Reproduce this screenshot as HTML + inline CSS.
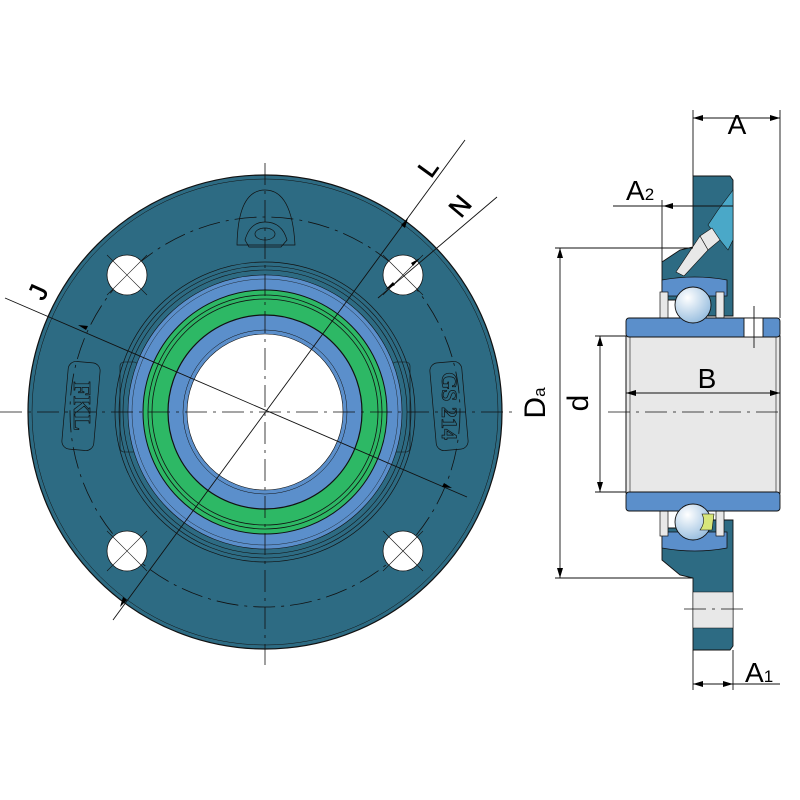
<!DOCTYPE html>
<html><head><meta charset="utf-8"><style>html,body{margin:0;padding:0;background:#fff}svg{display:block}</style></head><body>
<svg width="800" height="800" viewBox="0 0 800 800" xmlns="http://www.w3.org/2000/svg" font-family="Liberation Sans, DejaVu Sans, sans-serif">
<defs>
<marker id="ar" markerWidth="10" markerHeight="6" refX="10" refY="3" orient="auto-start-reverse" markerUnits="userSpaceOnUse"><path d="M0,0 L10,3 L0,6 z" fill="#000"/></marker>
<radialGradient id="ball" cx="0.35" cy="0.3" r="0.8"><stop offset="0" stop-color="#fff"/><stop offset="1" stop-color="#8fb8dc"/></radialGradient>
</defs>
<!-- FRONT VIEW -->
<circle cx="265" cy="412" r="237" fill="#2d6b83" stroke="#111" stroke-width="1.2"/>
<circle cx="265" cy="412" r="233" fill="none" stroke="#111" stroke-width="0.5"/>
<circle cx="265" cy="412" r="195" fill="none" stroke="#111" stroke-width="0.8" stroke-dasharray="22,6,3,6"/>
<g fill="#fff" stroke="#111" stroke-width="0.8">
<circle cx="127" cy="275" r="20"/><circle cx="403" cy="275" r="20"/><circle cx="127" cy="551" r="20"/><circle cx="403" cy="551" r="20"/>
</g>
<g stroke="#111" stroke-width="0.6">
<path d="M107,255 L147,295 M147,255 L107,295 M383,255 L423,295 M423,255 L383,295 M107,531 L147,571 M147,531 L107,571 M383,531 L423,571 M423,531 L383,571"/>
</g>
<path d="M237,245 Q238,190 265,190 Q292,190 295,245 Z" fill="none" stroke="#111" stroke-width="0.7"/>
<path d="M245,240 Q250,222 265,222 Q282,222 287,240 L281,247 L249,247 Z" fill="none" stroke="#111" stroke-width="0.7"/>
<ellipse cx="265" cy="234" rx="10" ry="6" fill="none" stroke="#111" stroke-width="0.7"/>
<rect x="65" y="362" width="32" height="88" rx="8" fill="none" stroke="#111" stroke-width="0.7" transform="rotate(5 81 406)"/>
<text x="81" y="413" font-size="24" font-weight="bold" text-anchor="middle" fill="none" stroke="#111" stroke-width="0.7" transform="rotate(90 81 406)" font-family="Liberation Serif, serif">FKL</text>
<rect x="433" y="362" width="32" height="88" rx="8" fill="none" stroke="#111" stroke-width="0.7" transform="rotate(-5 449 406)"/>
<text x="449" y="413" font-size="22" font-weight="bold" text-anchor="middle" fill="none" stroke="#111" stroke-width="0.7" transform="rotate(90 449 406)" font-family="Liberation Serif, serif">GS 214</text>
<circle cx="265" cy="412" r="150" fill="none" stroke="#111" stroke-width="0.7"/>
<circle cx="265" cy="412" r="146" fill="none" stroke="#111" stroke-width="0.6"/>
<circle cx="265" cy="412" r="142" fill="none" stroke="#111" stroke-width="0.6"/>
<rect x="120" y="362" width="18" height="90" rx="4" fill="none" stroke="#111" stroke-width="0.6"/>
<rect x="392" y="362" width="18" height="90" rx="4" fill="none" stroke="#111" stroke-width="0.6"/>
<circle cx="265" cy="412" r="137" fill="#5b8fcb" stroke="#111" stroke-width="0.6"/>
<circle cx="265" cy="412" r="133" fill="none" stroke="#111" stroke-width="0.4"/>
<circle cx="265" cy="412" r="122" fill="#2db865" stroke="#111" stroke-width="1"/>
<circle cx="265" cy="412" r="117" fill="none" stroke="#111" stroke-width="0.8"/>
<circle cx="265" cy="412" r="113" fill="none" stroke="#111" stroke-width="0.8"/>
<circle cx="265" cy="412" r="97" fill="#5b8fcb" stroke="#111" stroke-width="1.2"/>
<circle cx="265" cy="412" r="82" fill="none" stroke="#111" stroke-width="0.5"/>
<circle cx="265" cy="412" r="78" fill="#fff" stroke="#111" stroke-width="0.6"/>
<g stroke="#111" stroke-width="0.8" stroke-dasharray="22,6,3,6">
<line x1="0" y1="412" x2="515" y2="412"/><line x1="265" y1="163" x2="265" y2="665"/>
</g>
<g stroke="#111" stroke-width="0.9" fill="none">
<line x1="5" y1="298" x2="467" y2="497"/>
<line x1="465" y1="140" x2="113" y2="620"/>
<line x1="497" y1="197" x2="378" y2="298"/>
</g>
<path d="M78,325 L88,326 L86,330 Z M452,488 L442,487 L444,483 Z" fill="#000"/>
<path d="M408,218 L405,228 L401,225 Z M120,607 L123,597 L127,600 Z" fill="#000"/>
<path d="M420,258 L411,263 L413,266 Z M385,290 L395,285 L393,282 Z" fill="#000"/>
<text x="38" y="301" font-size="26" text-anchor="middle" stroke="#000" stroke-width="0.6" transform="rotate(-66 38 292)">J</text>
<text x="428" y="177" font-size="26" text-anchor="middle" stroke="#000" stroke-width="0.6" transform="rotate(-54 428 168)">L</text>
<text x="460" y="215" font-size="26" text-anchor="middle" stroke="#000" stroke-width="0.6" transform="rotate(-50 460 206)">N</text>
<!-- SIDE VIEW -->
<rect x="626" y="336" width="154" height="157" fill="#e8e8e8" stroke="#111" stroke-width="1"/>
<line x1="630" y1="336" x2="630" y2="493" stroke="#111" stroke-width="0.6"/>
<line x1="776" y1="336" x2="776" y2="493" stroke="#111" stroke-width="0.6"/>
<path d="M693,176 L730,176 L733,180 L733,316 L700,316 L700,300 L662,300 L662,262 L680,250 L693,247 Z" fill="#2d6b83" stroke="#111" stroke-width="0.9"/>
<path d="M733,190 L718,210 L708,225 L728,250 L733,240 Z" fill="#4aa8c8" stroke="#111" stroke-width="0.6"/>
<path d="M700,236 L712,228 L720,240 L708,250 Z" fill="#e8e8e8" stroke="#111" stroke-width="0.6"/>
<path d="M700,236 L676,272 L684,276 L708,250 Z" fill="#e8e8e8" stroke="#111" stroke-width="0.6"/>
<path d="M662,528 L700,528 L700,520 L733,520 L733,646 L730,650 L693,650 L693,578 L680,575 L662,560 Z" fill="#2d6b83" stroke="#111" stroke-width="0.9"/>
<rect x="693" y="592" width="40" height="36" fill="#e8e8e8" stroke="#111" stroke-width="0.5"/>
<path d="M662,280 Q695,274 727,280 L727,296 L662,296 Z" fill="#5b8fcb" stroke="#111" stroke-width="0.8"/>
<path d="M662,532 L727,532 L727,548 Q695,554 662,548 Z" fill="#5b8fcb" stroke="#111" stroke-width="0.8"/>
<g fill="#e8e8e8" stroke="#111" stroke-width="0.7">
<rect x="660" y="292" width="8" height="26"/><rect x="716" y="292" width="8" height="26"/>
<rect x="660" y="510" width="8" height="26"/><rect x="716" y="510" width="8" height="26"/>
</g>
<rect x="626" y="318" width="154" height="19" rx="3" fill="#5b8fcb" stroke="#111" stroke-width="0.9"/>
<rect x="626" y="492" width="154" height="19" rx="3" fill="#5b8fcb" stroke="#111" stroke-width="0.9"/>
<rect x="744" y="318" width="19" height="19" fill="#fff" stroke="#111" stroke-width="0.9"/>
<circle cx="693" cy="305" r="18" fill="url(#ball)" stroke="#111" stroke-width="0.9"/>
<circle cx="693" cy="522" r="18" fill="url(#ball)" stroke="#111" stroke-width="0.9"/>
<path d="M702,514 L714,514 L712,530 L700,530 Q706,522 702,514 Z" fill="#d8e67a" stroke="#111" stroke-width="0.6"/>
<g stroke="#111" stroke-width="0.8" stroke-dasharray="22,6,3,6">
<line x1="608" y1="412" x2="782" y2="412"/><line x1="684" y1="609" x2="745" y2="609"/>
</g>
<g stroke="#111" stroke-width="0.9" fill="none">
<line x1="693" y1="110" x2="693" y2="176"/><line x1="780" y1="110" x2="780" y2="318"/>
<line x1="693" y1="118" x2="780" y2="118" marker-start="url(#ar)" marker-end="url(#ar)"/>
<line x1="662" y1="200" x2="662" y2="262"/>
<line x1="613" y1="206" x2="733" y2="206"/>
<line x1="555" y1="248" x2="693" y2="248"/><line x1="555" y1="578" x2="693" y2="578"/>
<line x1="560" y1="248" x2="560" y2="578" marker-start="url(#ar)" marker-end="url(#ar)"/>
<line x1="595" y1="336" x2="626" y2="336"/><line x1="595" y1="492" x2="626" y2="492"/>
<line x1="600" y1="336" x2="600" y2="492" marker-start="url(#ar)" marker-end="url(#ar)"/>
<line x1="626" y1="393" x2="780" y2="393" marker-start="url(#ar)" marker-end="url(#ar)"/>
<line x1="693" y1="650" x2="693" y2="690"/><line x1="733" y1="650" x2="733" y2="690"/>
<line x1="693" y1="684" x2="733" y2="684" marker-start="url(#ar)" marker-end="url(#ar)"/>
<line x1="733" y1="684" x2="780" y2="684"/>
<line x1="754" y1="306" x2="754" y2="348"/>
</g>
<path d="M663,206 L673,203 L673,209 Z" fill="#000"/>
<text x="737" y="134" font-size="28" text-anchor="middle">A</text>
<text x="626" y="200" font-size="28">A<tspan font-size="17">2</tspan></text>
<text x="707" y="388" font-size="28" text-anchor="middle">B</text>
<text x="745" y="682" font-size="28">A<tspan font-size="17">1</tspan></text>
<text x="554" y="412" font-size="30" text-anchor="middle" transform="rotate(-90 545 412)">D<tspan font-size="17">a</tspan></text>
<text x="597" y="412" font-size="30" text-anchor="middle" transform="rotate(-90 588 412)">d</text>
</svg>
</body></html>
